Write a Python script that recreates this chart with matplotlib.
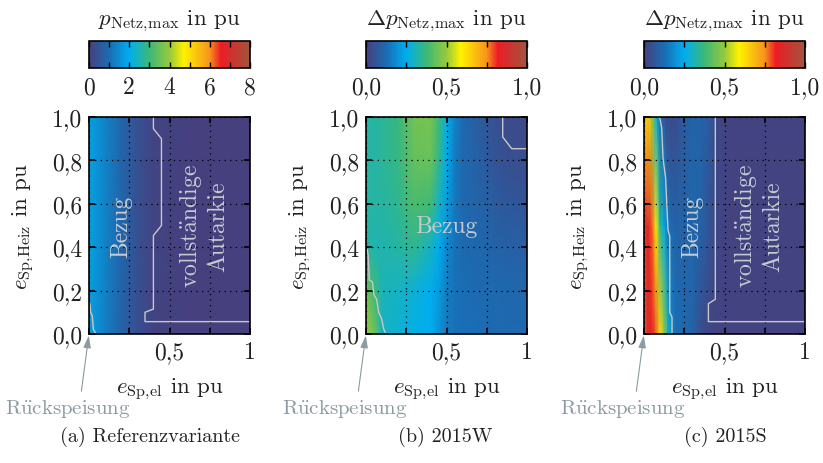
import numpy as np
import matplotlib
matplotlib.use("Agg")
import matplotlib.pyplot as plt
from matplotlib.colors import LinearSegmentedColormap

plt.rcParams['font.family'] = ['cmr10', 'DejaVu Serif']
plt.rcParams['mathtext.fontset'] = 'cm'
plt.rcParams['axes.unicode_minus'] = False

# ---- data ----
# (a) Referenzvariante: p_Netz,max in pu
xa = [0, 0.05, 0.1, 0.2, 0.3, 0.4, 0.6, 1.0]
ya = [0, 0.5, 1.0]
za = [[1.75, 1.55, 1.30, 0.80, 0.35, 0.08, 0.03, 0.03],
      [1.80, 1.60, 1.35, 0.85, 0.40, 0.10, 0.03, 0.03],
      [1.80, 1.60, 1.35, 0.85, 0.40, 0.10, 0.03, 0.03]]

# (b) 2015W: delta p_Netz,max in pu
xb = [0, 0.05, 0.1, 0.2, 0.3, 0.4, 0.45, 0.5, 0.55, 0.6, 0.7, 0.8, 0.9, 1.0]
yb = [0, 0.2, 0.4, 0.6, 0.8, 1.0]
zb = [[0.50, 0.45, 0.30, 0.28, 0.26, 0.25, 0.20, 0.15, 0.14, 0.13, 0.13, 0.12, 0.12, 0.12],
      [0.45, 0.38, 0.31, 0.30, 0.28, 0.25, 0.22, 0.16, 0.14, 0.13, 0.12, 0.12, 0.11, 0.11],
      [0.33, 0.32, 0.32, 0.33, 0.35, 0.30, 0.25, 0.18, 0.14, 0.12, 0.11, 0.10, 0.09, 0.09],
      [0.33, 0.33, 0.33, 0.35, 0.40, 0.38, 0.30, 0.22, 0.15, 0.12, 0.10, 0.08, 0.07, 0.06],
      [0.33, 0.33, 0.34, 0.36, 0.43, 0.44, 0.36, 0.25, 0.16, 0.12, 0.09, 0.06, 0.04, 0.04],
      [0.33, 0.33, 0.34, 0.37, 0.45, 0.46, 0.38, 0.26, 0.17, 0.12, 0.08, 0.05, 0.03, 0.03]]

# (c) 2015S: delta p_Netz,max in pu
xc = [0, 0.025, 0.05, 0.075, 0.1, 0.125, 0.15, 0.175, 0.2, 0.25, 0.3, 0.35, 0.4, 0.45, 0.5, 1.0]
yc = [0, 0.5, 1.0]
zc = [[0.78, 0.85, 0.84, 0.78, 0.63, 0.50, 0.29, 0.17, 0.13, 0.12, 0.10, 0.04, 0.02, 0.01, 0.01, 0.01],
      [0.80, 0.84, 0.78, 0.58, 0.34, 0.24, 0.14, 0.11, 0.10, 0.10, 0.11, 0.10, 0.06, 0.02, 0.01, 0.01],
      [0.70, 0.64, 0.50, 0.28, 0.13, 0.05, 0.03, 0.03, 0.04, 0.08, 0.10, 0.10, 0.08, 0.03, 0.01, 0.01]]

# boundary lines (Rückspeisung / Bezug / vollständige Autarkie)
ra_x = [0.006, 0.01, 0.02, 0.027, 0.043]
ra_y = [0.138, 0.10, 0.085, 0.023, 0.0]
aa_x = [0.40, 0.40, 0.45, 0.45, 0.40, 0.40, 0.348, 0.348, 1.0]
aa_y = [1.0, 0.946, 0.90, 0.50, 0.454, 0.115, 0.10, 0.057, 0.057]

rb_x = [0.008, 0.014, 0.02, 0.04, 0.05, 0.066, 0.079, 0.097, 0.11, 0.124]
rb_y = [0.39, 0.36, 0.25, 0.24, 0.18, 0.16, 0.10, 0.07, 0.023, 0.0]
ab_x = [0.849, 0.849, 0.905, 1.0]
ab_y = [1.0, 0.908, 0.854, 0.854]

rc_x = [0.097, 0.11, 0.118, 0.134, 0.149, 0.16, 0.16, 0.174, 0.174]
rc_y = [1.0, 0.95, 0.81, 0.72, 0.48, 0.45, 0.10, 0.077, 0.0]
ac_x = [0.443, 0.443, 0.40, 0.40, 1.0]
ac_y = [1.0, 0.16, 0.14, 0.057, 0.057]

y_ticks = [0, 0.2, 0.4, 0.6, 0.8, 1.0]
y_labels = ['0,0', '0,2', '0,4', '0,6', '0,8', '1,0']
x_ticks = [0, 0.25, 0.5, 0.75, 1.0]
x_labels = ['', '', '0,5', '', '1']

cmap = LinearSegmentedColormap.from_list('netz', [
    (0.0, '#46407f'), (0.125, '#1b6cb3'), (0.25, '#00aeef'), (0.375, '#3cb878'),
    (0.5, '#96c93d'), (0.59, '#fff100'), (0.75, '#f7941d'), (0.82, '#ec1c24'),
    (1.0, '#a0553f')])

fs = 17
line_col = '#c8c8c8'
text_col = '#c5ccd1'
arrow_col = '#8a9ba1'

fig = plt.figure(figsize=(8.23, 4.64), dpi=100)

W, H = 823, 464
lefts = [89, 366, 644]
caption_x = [150, 445, 725]


def draw_panel(i, x, y, z, vmax, cb_title, lines, caption):
    left = lefts[i] / W
    ax = fig.add_axes([left, (H - 335) / H, 161 / W, 217 / H])
    cax = fig.add_axes([left, (H - 69) / H, 161 / W, 27 / H])

    X, Y = np.meshgrid(x, y)
    mesh = ax.pcolormesh(X, Y, np.array(z), shading='gouraud', cmap=cmap,
                         vmin=0, vmax=vmax)
    for lx, ly in lines:
        ax.plot(lx, ly, color=line_col, lw=1.0)

    ax.set_xlim(0, 1)
    ax.set_ylim(0, 1)
    ax.set_xticks(x_ticks)
    ax.set_xticklabels(x_labels)
    ax.set_yticks(y_ticks)
    ax.set_yticklabels(y_labels)
    ax.tick_params(direction='in', top=True, right=True, length=4, width=1.2,
                   labelsize=fs, pad=5, labelcolor='#222222')
    ax.grid(True, color='black', linestyle=(0, (1, 3.5)), lw=0.9)
    for s in ax.spines.values():
        s.set_linewidth(1.2)

    ax.set_xlabel(r'$e_{\mathrm{Sp,\!el}}$ in pu', fontsize=16.5, color='#222222')
    ax.xaxis.set_label_coords(0.5, -0.19)
    ax.set_ylabel(r'$e_{\mathrm{Sp,\!Heiz}}$ in pu', fontsize=16.5, color='#222222')
    ax.yaxis.set_label_coords(-0.33, 0.5)

    ax.annotate(r'R$\ddot{\mathrm{u}}$ckspeisung', xy=(0, 0), xycoords='data',
                xytext=(-0.13, -0.34), textcoords='axes fraction',
                ha='center', va='center', fontsize=15, color=arrow_col,
                arrowprops=dict(arrowstyle='-|>,head_length=0.5,head_width=0.15',
                                color=arrow_col, lw=0.8, relpos=(0.6, 1.0),
                                shrinkA=2, shrinkB=1))

    cb = fig.colorbar(mesh, cax=cax, orientation='horizontal')
    cb.outline.set_linewidth(1.2)
    cax.tick_params(which='both', direction='in', top=True, bottom=True,
                    length=4, width=1.0, labelsize=fs, pad=6, labelcolor='#222222')
    cax.set_title(cb_title, fontsize=16.5, pad=12, color='#222222')

    fig.text(caption_x[i] / W, (H - 437) / H, caption, fontsize=14.5,
             ha='center', va='center', color='#222222')
    return ax, cax


autarkie = 'vollst$\\ddot{\\mathrm{a}}$ndige\nAutarkie'

ax, cax = draw_panel(0, xa, ya, za, 8, r'$p_{\mathrm{Netz,\!max}}$ in pu',
                     [(ra_x, ra_y), (aa_x, aa_y)], '(a) Referenzvariante')
cax.set_xticks([0, 2, 4, 6, 8])
cax.set_xticklabels(['0', '2', '4', '6', '8'])
cax.set_xticks([1, 3, 5, 7], minor=True)
ax.text(0.20, 0.5, 'Bezug', rotation=90, fontsize=17, color=text_col,
        ha='center', va='center')
ax.text(0.71, 0.5, autarkie, rotation=90, fontsize=17, color=text_col,
        ha='center', va='center', multialignment='center')

for i, (x, y, z, lines, cap) in enumerate([
        (xb, yb, zb, [(rb_x, rb_y), (ab_x, ab_y)], '(b) 2015W'),
        (xc, yc, zc, [(rc_x, rc_y), (ac_x, ac_y)], '(c) 2015S')], start=1):
    ax, cax = draw_panel(i, x, y, z, 1.0, r'$\Delta p_{\mathrm{Netz,\!max}}$ in pu',
                         lines, cap)
    cax.set_xticks([0, 0.5, 1.0])
    cax.set_xticklabels(['0,0', '0,5', '1,0'])
    cax.set_xticks([0.25, 0.75], minor=True)
    if i == 1:
        ax.text(0.5, 0.5, 'Bezug', fontsize=17, color=text_col,
                ha='center', va='center')
    else:
        ax.text(0.30, 0.5, 'Bezug', rotation=90, fontsize=17, color=text_col,
                ha='center', va='center')
        ax.text(0.71, 0.5, autarkie, rotation=90, fontsize=17, color=text_col,
                ha='center', va='center', multialignment='center')

fig.savefig('out.png', dpi=100)
